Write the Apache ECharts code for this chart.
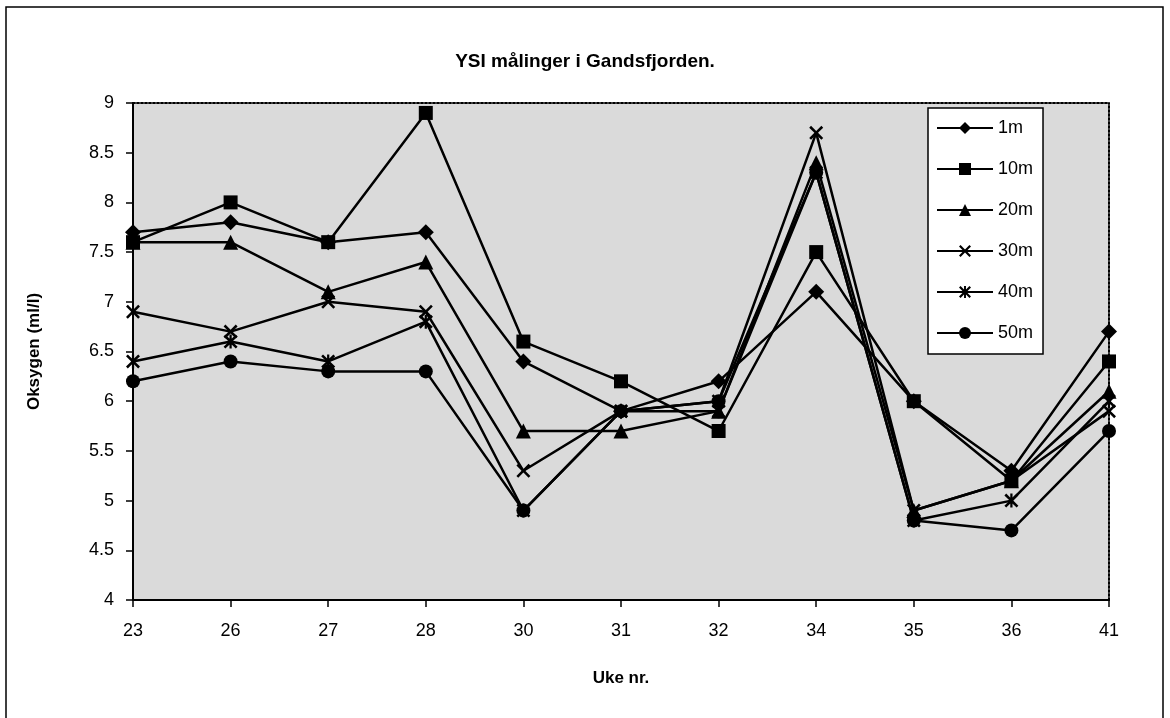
<!DOCTYPE html>
<html>
<head>
<meta charset="utf-8">
<script src="https://cdn.jsdelivr.net/npm/echarts@6/dist/echarts.min.js"></script>
<style>
  html, body { margin: 0; padding: 0; background: #fff; }
  #chart { width: 1170px; height: 718px; }
</style>
</head>
<body>
<div id="chart"></div>
<script>
// week numbers along the x axis
var weeks = ['23', '26', '27', '28', '30', '31', '32', '34', '35', '36', '41'];

// oxygen (ml/l) per depth
var d1m  = [7.7, 7.8, 7.6, 7.7, 6.4, 5.9, 6.2, 7.1, 6.0, 5.3, 6.7];
var d10m = [7.6, 8.0, 7.6, 8.9, 6.6, 6.2, 5.7, 7.5, 6.0, 5.2, 6.4];
var d20m = [7.6, 7.6, 7.1, 7.4, 5.7, 5.7, 5.9, 8.4, 4.9, 5.2, 6.1];
var d30m = [6.9, 6.7, 7.0, 6.9, 5.3, 5.9, 6.0, 8.7, 4.9, 5.2, 5.9];
var d40m = [6.4, 6.6, 6.4, 6.8, 4.9, 5.9, 5.9, 8.3, 4.8, 5.0, 6.0];
var d50m = [6.2, 6.4, 6.3, 6.3, 4.9, 5.9, 6.0, 8.3, 4.8, 4.7, 5.7];

var seriesNames = ['1m', '10m', '20m', '30m', '40m', '50m'];

var crossPath = 'path://M0,1.3L1.3,0L5,3.7L8.7,0L10,1.3L6.3,5L10,8.7L8.7,10L5,6.3L1.3,10L0,8.7L3.7,5Z';
var starPath = 'path://M0,1.3L1.3,0L5,3.7L8.7,0L10,1.3L6.3,5L10,8.7L8.7,10L5,6.3L1.3,10L0,8.7L3.7,5Z M4.2,0L5.8,0L5.8,10L4.2,10Z';

var font = "'Liberation Sans', Arial, sans-serif";

function mkSeries (name, data, symbol, size) {
    return {
        name: name,
        type: 'line',
        data: data,
        symbol: symbol,
        symbolSize: size,
        showAllSymbol: true,
        lineStyle: { color: '#000', width: 2.5 },
        itemStyle: { color: '#000' },
        z: 3
    };
}

var chart = echarts.init(document.getElementById('chart'));

chart.setOption({
    animation: false,
    backgroundColor: '#fff',
    textStyle: { fontFamily: font, color: '#000' },
    title: {
        text: 'YSI målinger i Gandsfjorden.',
        left: 'center',
        top: 47,
        textStyle: { fontFamily: font, fontSize: 19, fontWeight: 'bold', color: '#000' }
    },
    graphic: [{
        type: 'rect',
        shape: { x: 6, y: 7, width: 1157, height: 730 },
        style: { fill: 'none', stroke: '#000', lineWidth: 1.5 },
        silent: true
    }],
    grid: {
        left: 133,
        right: 61,
        top: 103,
        bottom: 118,
        show: true,
        backgroundColor: '#dadada',
        borderWidth: 0
    },
    legend: {
        data: seriesNames,
        orient: 'vertical',
        left: 928,
        top: 108,
        itemWidth: 56,
        itemHeight: 15,
        itemGap: 23,
        padding: [11, 10, 12, 8],
        backgroundColor: '#fff',
        borderColor: '#000',
        borderWidth: 1.5,
        textStyle: { fontFamily: font, fontSize: 18, color: '#000' }
    },
    xAxis: [{
        type: 'category',
        data: weeks,
        boundaryGap: false,
        name: 'Uke nr.',
        nameLocation: 'middle',
        nameGap: 70,
        nameTextStyle: { fontFamily: font, fontSize: 17, fontWeight: 'bold', color: '#000' },
        axisLine: { lineStyle: { color: '#000', width: 2 } },
        axisTick: { length: 7, lineStyle: { color: '#000', width: 1.5 } },
        axisLabel: { margin: 22, fontSize: 18, color: '#000', fontFamily: font },
        splitLine: { show: false }
    }, {
        type: 'category',
        data: weeks,
        boundaryGap: false,
        position: 'top',
        axisLine: { lineStyle: { color: '#000', width: 2, type: 'dotted' } },
        axisTick: { show: false },
        axisLabel: { show: false },
        splitLine: { show: false }
    }],
    yAxis: [{
        type: 'value',
        min: 4,
        max: 9,
        interval: 0.5,
        name: 'Oksygen (ml/l)',
        nameLocation: 'middle',
        nameGap: 90,
        nameTextStyle: { fontFamily: font, fontSize: 17, fontWeight: 'bold', color: '#000' },
        axisLine: { show: true, lineStyle: { color: '#000', width: 2 } },
        axisTick: { show: true, length: 7, lineStyle: { color: '#000', width: 1.5 } },
        axisLabel: { margin: 19, fontSize: 18, color: '#000', fontFamily: font },
        splitLine: { show: false }
    }, {
        type: 'value',
        min: 4,
        max: 9,
        interval: 0.5,
        position: 'right',
        axisLine: { show: true, lineStyle: { color: '#000', width: 2, type: 'dotted' } },
        axisTick: { show: false },
        axisLabel: { show: false },
        splitLine: { show: false }
    }],
    series: [
        mkSeries('1m', d1m, 'diamond', 16),
        mkSeries('10m', d10m, 'rect', 14),
        mkSeries('20m', d20m, 'triangle', 15),
        mkSeries('30m', d30m, crossPath, 14),
        mkSeries('40m', d40m, starPath, 14),
        mkSeries('50m', d50m, 'circle', 14)
    ]
});
</script>
</body>
</html>
